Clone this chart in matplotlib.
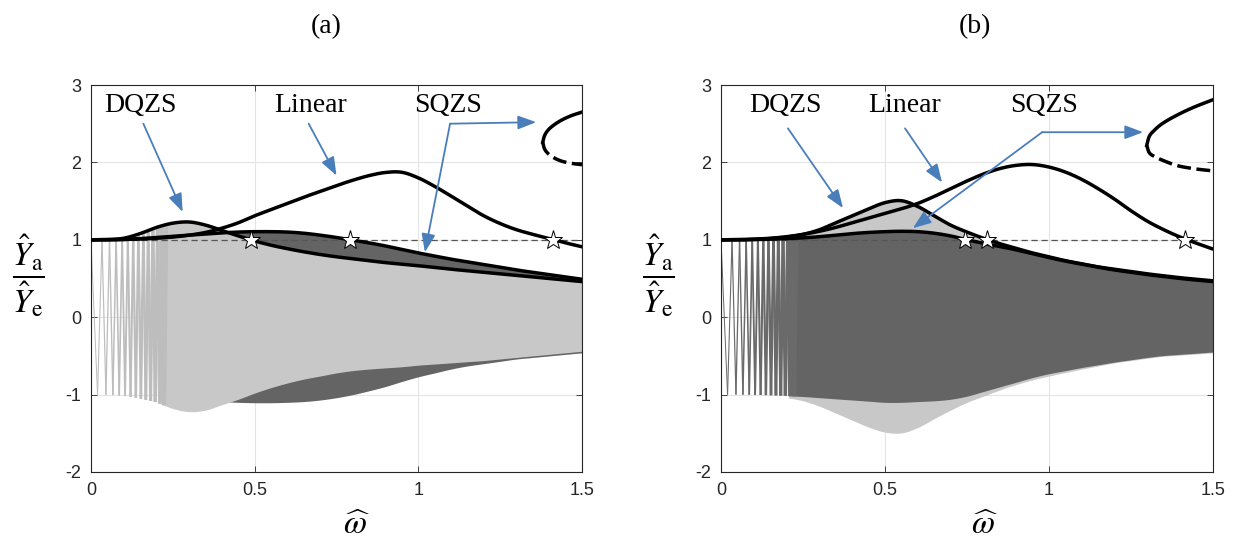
import numpy as np
import matplotlib
matplotlib.use("Agg")
import matplotlib.pyplot as plt
from matplotlib.collections import LineCollection

plt.rcParams['mathtext.fontset'] = 'stix'

# ---------------- data ----------------
omega = [0.00, 0.05, 0.10, 0.15, 0.20, 0.25, 0.30, 0.35, 0.40, 0.45, 0.50,
         0.55, 0.60, 0.65, 0.70, 0.75, 0.80, 0.85, 0.90, 0.95, 1.00,
         1.05, 1.10, 1.15, 1.20, 1.25, 1.30, 1.35, 1.40, 1.45, 1.50]

# panel (a)
linear_a = [1.000, 1.001, 1.004, 1.010, 1.020, 1.035, 1.060, 1.095, 1.150, 1.220, 1.310,
            1.390, 1.470, 1.550, 1.625, 1.700, 1.770, 1.830, 1.870, 1.872, 1.800,
            1.690, 1.565, 1.435, 1.310, 1.210, 1.130, 1.070, 1.015, 0.960, 0.910]
dqzs_a = [1.000, 1.003, 1.020, 1.080, 1.160, 1.215, 1.230, 1.190, 1.120, 1.050, 0.985,
          0.930, 0.885, 0.845, 0.810, 0.780, 0.755, 0.730, 0.705, 0.685, 0.665,
          0.642, 0.620, 0.600, 0.580, 0.560, 0.540, 0.520, 0.500, 0.480, 0.460]
sqzs_a = [1.000, 1.000, 1.005, 1.015, 1.030, 1.045, 1.060, 1.075, 1.090, 1.100, 1.105,
          1.105, 1.100, 1.085, 1.060, 1.030, 0.995, 0.960, 0.920, 0.875, 0.830,
          0.790, 0.750, 0.715, 0.680, 0.645, 0.610, 0.580, 0.550, 0.520, 0.490]
dqzs_lo_a = [-1.000, -1.003, -1.015, -1.050, -1.100, -1.180, -1.220, -1.200, -1.130, -1.060, -0.980,
             -0.910, -0.850, -0.800, -0.760, -0.720, -0.690, -0.670, -0.655, -0.640, -0.620,
             -0.605, -0.590, -0.575, -0.560, -0.540, -0.520, -0.500, -0.480, -0.460, -0.440]
sqzs_lo_a = [-1.000, -1.000, -1.005, -1.015, -1.030, -1.045, -1.060, -1.075, -1.090, -1.100, -1.105,
             -1.105, -1.100, -1.090, -1.070, -1.040, -1.000, -0.950, -0.895, -0.830, -0.770,
             -0.720, -0.670, -0.630, -0.600, -0.570, -0.540, -0.520, -0.500, -0.480, -0.460]
branch_x_a = [1.38, 1.385, 1.395, 1.41, 1.435, 1.465, 1.50]
branch_hi_a = [2.26, 2.34, 2.41, 2.47, 2.54, 2.60, 2.65]
branch_lo_a = [2.26, 2.18, 2.12, 2.07, 2.02, 1.99, 1.97]
stars_a = [0.49, 0.79, 1.41]

# panel (b)
linear_b = [1.000, 1.002, 1.008, 1.020, 1.040, 1.070, 1.110, 1.160, 1.220, 1.280, 1.340,
            1.400, 1.470, 1.560, 1.660, 1.760, 1.850, 1.920, 1.962, 1.972, 1.940,
            1.875, 1.780, 1.660, 1.525, 1.375, 1.240, 1.130, 1.035, 0.955, 0.880]
dqzs_b = [1.000, 1.001, 1.005, 1.015, 1.035, 1.070, 1.130, 1.220, 1.310, 1.400, 1.480,
          1.505, 1.430, 1.310, 1.190, 1.100, 1.020, 0.950, 0.890, 0.830, 0.780,
          0.730, 0.690, 0.650, 0.620, 0.590, 0.560, 0.535, 0.510, 0.490, 0.470]
sqzs_b = [1.000, 1.000, 1.003, 1.008, 1.015, 1.025, 1.040, 1.060, 1.080, 1.095, 1.105,
          1.110, 1.105, 1.085, 1.050, 1.000, 0.955, 0.915, 0.870, 0.820, 0.770,
          0.725, 0.685, 0.645, 0.610, 0.580, 0.550, 0.525, 0.500, 0.480, 0.460]
dqzs_lo_b = [-1.000, -1.000, -1.005, -1.015, -1.040, -1.080, -1.150, -1.240, -1.330, -1.420, -1.485,
             -1.495, -1.425, -1.310, -1.200, -1.100, -1.020, -0.940, -0.870, -0.810, -0.760,
             -0.715, -0.670, -0.630, -0.590, -0.560, -0.530, -0.505, -0.490, -0.475, -0.460]
sqzs_lo_b = [-1.000, -1.000, -1.003, -1.008, -1.015, -1.025, -1.040, -1.055, -1.070, -1.085, -1.100,
             -1.100, -1.090, -1.080, -1.060, -1.020, -0.960, -0.900, -0.840, -0.780, -0.730,
             -0.690, -0.650, -0.615, -0.580, -0.550, -0.520, -0.495, -0.480, -0.465, -0.450]
branch_x_b = [1.298, 1.305, 1.32, 1.345, 1.39, 1.44, 1.50]
branch_hi_b = [2.22, 2.33, 2.41, 2.50, 2.61, 2.71, 2.81]
branch_lo_b = [2.22, 2.13, 2.08, 2.03, 1.96, 1.92, 1.89]
stars_b = [0.745, 0.81, 1.415]

xticks = [0, 0.5, 1, 1.5]
xticklabels = ['0', '0.5', '1', '1.5']
yticks = [-2, -1, 0, 1, 2, 3]
yticklabels = ['-2', '-1', '0', '1', '2', '3']

# ---------------- styling ----------------
LIGHT = '#c8c8c8'
DARK = '#646464'
BLUE = '#4a7ebb'
SERIF = 'Liberation Serif'
SANS = 'Liberation Sans'
W, H = 1237, 546

fig = plt.figure(figsize=(W / 100, H / 100), dpi=100)
om = np.array(omega)


def smooth(x, y, n=600):
    """Cubic Hermite (Catmull-Rom) rendering of a curve through the read points."""
    x = np.asarray(x, float)
    y = np.asarray(y, float)
    h = np.diff(x)
    d = np.diff(y) / h
    m = np.zeros_like(y)
    m[0], m[-1] = d[0], d[-1]
    m[1:-1] = (y[2:] - y[:-2]) / (x[2:] - x[:-2])
    xn = np.linspace(x[0], x[-1], n)
    i = np.clip(np.searchsorted(x, xn) - 1, 0, len(x) - 2)
    t = (xn - x[i]) / h[i]
    h00 = 2 * t**3 - 3 * t**2 + 1
    h10 = t**3 - 2 * t**2 + t
    h01 = -2 * t**3 + 3 * t**2
    h11 = t**3 - t**2
    yn = h00 * y[i] + h10 * h[i] * m[i] + h01 * y[i + 1] + h11 * h[i] * m[i + 1]
    return xn, yn


def sweep(ax, up, lo, color):
    # swept-sine time response drawn as zig-zag between the envelopes
    k = np.arange(1, 60)
    w = 0.02 * k ** 0.75
    w = w[w <= 0.235]
    xs = np.concatenate([[0.0], w])
    yu = np.interp(xs, om, up)
    yl = np.interp(xs, om, lo)
    ys = np.where(np.arange(len(xs)) % 2 == 0, yu, yl)
    segs = [[(xs[j], ys[j]), (xs[j + 1], ys[j + 1])] for j in range(len(xs) - 1)]
    mids = 0.5 * (xs[:-1] + xs[1:])
    lws = 0.7 + 2.2 * (mids / 0.235) ** 1.5
    lc = LineCollection(segs, colors=color, linewidths=lws, zorder=2)
    ax.add_collection(lc)


def fill(ax, up, lo, color, z):
    xs, yu = smooth(om, up)
    _, yl = smooth(om, lo)
    ax.fill_between(xs, yl, yu, where=xs >= 0.205, color=color, lw=0, zorder=z)


def setup(ax):
    ax.set_xlim(0, 1.5)
    ax.set_ylim(-2, 3)
    ax.set_xticks(xticks)
    ax.set_xticklabels(xticklabels)
    ax.set_yticks(yticks)
    ax.set_yticklabels(yticklabels)
    ax.grid(True, color='#e4e4e4', lw=0.8, zorder=0)
    ax.set_axisbelow(True)
    ax.tick_params(direction='in', top=True, right=True, length=4, width=0.6,
                   labelsize=13, colors='#262626', pad=7)
    for lab in ax.get_xticklabels() + ax.get_yticklabels():
        lab.set_fontfamily(SANS)
    for s in ax.spines.values():
        s.set_color('#262626')
        s.set_linewidth(0.8)


def arrow(ax, start, end):
    ax.annotate('', xy=end, xytext=start,
                arrowprops=dict(arrowstyle='-|>,head_length=0.85,head_width=0.32',
                                mutation_scale=13, color=BLUE, lw=1.3,
                                shrinkA=0, shrinkB=0),
                zorder=6)


def curves(ax, linear, dqzs, sqzs, bx, bhi, blo, stars):
    ax.axhline(1.0, color='#555555', lw=0.9, ls=(0, (5, 3)), zorder=3)
    for y in (linear, dqzs, sqzs):
        xs, ys = smooth(om, y)
        ax.plot(xs, ys, color='black', lw=2.5, zorder=4, solid_capstyle='round')
    xs, ys = smooth(bx, bhi, 100)
    ax.plot(xs, ys, color='black', lw=2.5, zorder=4)
    xs, ys = smooth(bx, blo, 100)
    ax.plot(xs, ys, color='black', lw=2.5, ls=(0, (4, 1.6)), zorder=4)
    ax.plot(stars, [1.0] * len(stars), ls='none', marker='*', ms=14,
            mfc='white', mec='black', mew=0.7, zorder=5)


# ---------------- panel (a) ----------------
ax_a = fig.add_axes([91 / W, 74 / H, 491 / W, 387 / H])
setup(ax_a)
fill(ax_a, sqzs_a, sqzs_lo_a, DARK, 1)
fill(ax_a, dqzs_a, dqzs_lo_a, LIGHT, 2)
sweep(ax_a, dqzs_a, dqzs_lo_a, '#bdbdbd')
curves(ax_a, linear_a, dqzs_a, sqzs_a, branch_x_a, branch_hi_a, branch_lo_a, stars_a)
ax_a.text(0.15, 2.73, 'DQZS', family=SERIF, fontsize=20, ha='center', va='center', zorder=6)
ax_a.text(0.67, 2.73, 'Linear', family=SERIF, fontsize=20, ha='center', va='center', zorder=6)
ax_a.text(1.09, 2.73, 'SQZS', family=SERIF, fontsize=20, ha='center', va='center', zorder=6)
arrow(ax_a, (0.16, 2.50), (0.28, 1.36))
arrow(ax_a, (0.665, 2.50), (0.75, 1.83))
arrow(ax_a, (1.097, 2.50), (1.36, 2.52))
arrow(ax_a, (1.097, 2.50), (1.02, 0.84))

# ---------------- panel (b) ----------------
ax_b = fig.add_axes([721 / W, 74 / H, 492 / W, 387 / H])
setup(ax_b)
fill(ax_b, dqzs_b, dqzs_lo_b, LIGHT, 1)
fill(ax_b, sqzs_b, sqzs_lo_b, DARK, 2)
sweep(ax_b, sqzs_b, sqzs_lo_b, '#6a6a6a')
curves(ax_b, linear_b, dqzs_b, sqzs_b, branch_x_b, branch_hi_b, branch_lo_b, stars_b)
ax_b.text(0.195, 2.73, 'DQZS', family=SERIF, fontsize=20, ha='center', va='center', zorder=6)
ax_b.text(0.56, 2.73, 'Linear', family=SERIF, fontsize=20, ha='center', va='center', zorder=6)
ax_b.text(0.985, 2.73, 'SQZS', family=SERIF, fontsize=20, ha='center', va='center', zorder=6)
arrow(ax_b, (0.204, 2.44), (0.372, 1.41))
arrow(ax_b, (0.561, 2.44), (0.674, 1.74))
arrow(ax_b, (0.979, 2.39), (1.287, 2.39))
arrow(ax_b, (0.979, 2.39), (0.585, 1.15))

# ---------------- labels and titles ----------------
ylab = r'$\dfrac{\hat{Y}_{\mathrm{a}}}{\hat{Y}_{\mathrm{e}}}$'
for x0 in (28, 658):
    fig.text(x0 / W, 1 - 276 / H, ylab, fontsize=24, ha='center', va='center')
for x0 in (357, 985):
    fig.text(x0 / W, 1 - 525 / H, r'$\widehat{\omega}$', fontsize=24, ha='center', va='center')
fig.text(326 / W, 1 - 27 / H, '(a)', family=SERIF, fontsize=20, ha='center', va='center')
fig.text(975 / W, 1 - 27 / H, '(b)', family=SERIF, fontsize=20, ha='center', va='center')

fig.savefig('out.png', dpi=100)
